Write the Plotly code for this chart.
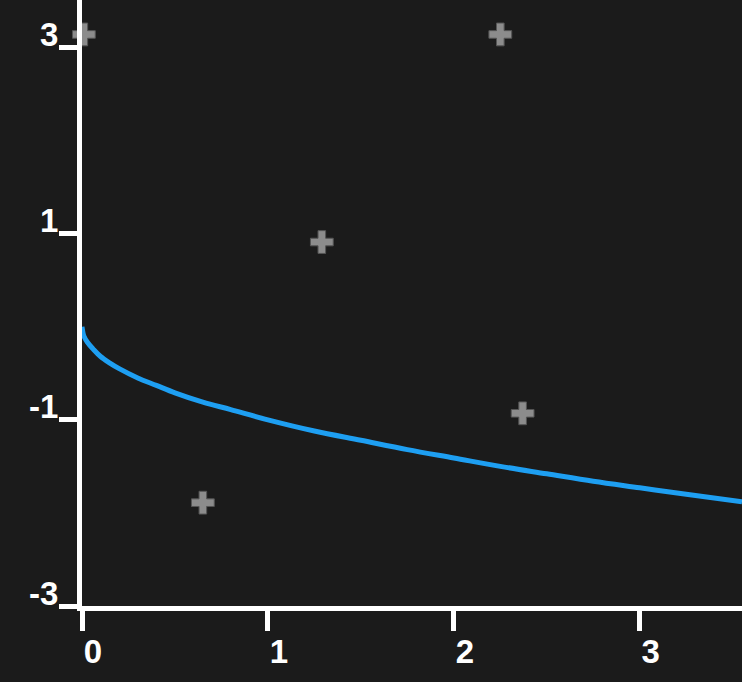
import plotly.graph_objects as go

# Curve values
curve_x = [0, 0.01, 0.03, 0.06, 0.1, 0.15, 0.2, 0.3, 0.4, 0.5, 0.65, 0.8, 1.0, 1.25, 1.5, 1.75, 2.0, 2.25, 2.5, 2.75, 3.0, 3.25, 3.55]
curve_y = [0, -0.1, -0.17, -0.24, -0.32, -0.39, -0.45, -0.55, -0.63, -0.71, -0.81, -0.89, -1.0, -1.12, -1.22, -1.32, -1.41, -1.5, -1.58, -1.66, -1.73, -1.8, -1.88]

# Scatter crosses
pts_x = [0.01, 0.65, 1.29, 2.25, 2.37]
pts_y = [3.14, -1.89, 0.91, 3.14, -0.93]

x_ticks = [0, 1, 2, 3]
y_ticks = [-3, -1, 1, 3]

fig = go.Figure()
fig.add_trace(go.Scatter(x=curve_x, y=curve_y, mode="lines",
                         line=dict(color="#1e9ff2", width=5, shape="spline"),
                         hoverinfo="skip", cliponaxis=False))
fig.add_trace(go.Scatter(x=pts_x, y=pts_y, mode="markers",
                         marker=dict(symbol="cross", size=19, color="#8c8c8c",
                                     line=dict(color="#555555", width=1)),
                         cliponaxis=False))

axis_font = dict(family="Liberation Sans, Arial, sans-serif", size=33, color="#ffffff", weight="bold")

fig.update_layout(
    width=742, height=682,
    paper_bgcolor="#1b1b1b", plot_bgcolor="#1b1b1b",
    showlegend=False,
    margin=dict(l=82, r=0, t=0, b=76),
    xaxis=dict(range=[0, 3.55], tickvals=x_ticks, ticktext=[str(v) for v in x_ticks],
               showgrid=False, zeroline=False, showline=True, linecolor="#ffffff", linewidth=5,
               ticks="outside", ticklen=20, tickwidth=5, tickcolor="#ffffff",
               tickfont=axis_font, ticklabelshift=11, ticklabelstandoff=-8),
    yaxis=dict(range=[-3, 3.51], tickvals=y_ticks, ticktext=[str(v) for v in y_ticks],
               showgrid=False, zeroline=False, showline=True, linecolor="#ffffff", linewidth=5,
               ticks="outside", ticklen=18, tickwidth=5, tickcolor="#ffffff",
               tickfont=axis_font, ticklabelshift=-13, ticklabelstandoff=-6),
)

fig.write_html("out.html", config={"displayModeBar": False},
               post_script="document.body.style.margin='0';document.body.style.background='#1b1b1b';")
